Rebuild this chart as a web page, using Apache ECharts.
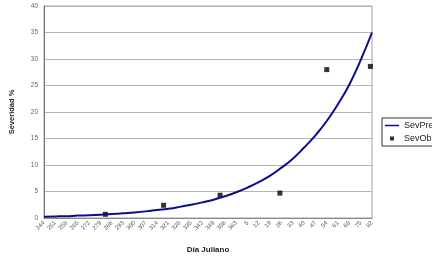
<!DOCTYPE html>
<html><head><meta charset="utf-8">
<script src="https://cdn.jsdelivr.net/npm/echarts@6/dist/echarts.min.js"></script>
<style>html,body{margin:0;padding:0;background:#fff}#c{width:432px;height:259px}</style>
</head><body><div id="c"></div>
<script>
// Tick labels (Julian day), one per week
const tickLabels = [244,251,258,265,272,279,286,293,300,307,314,321,328,335,342,349,356,363,5,12,19,26,33,40,47,54,61,68,75,82];
// Predicted severity at each tick day
const predValues = [0.25,0.3,0.35,0.45,0.5,0.6,0.75,0.9,1.05,1.25,1.5,1.75,2.1,2.5,2.95,3.45,4.1,4.85,5.75,6.8,8.0,9.5,11.2,13.3,15.6,18.3,21.5,25.2,29.8,35.0];
// Observed severity
const obsDays = [282,318,353,25,54,81];
const obsValues = [0.7,2.4,4.3,4.7,28.0,28.6];

const startDay = 244;
const toOffset = d => (d - startDay + 365) % 365;
const labelMap = {};
tickLabels.forEach(d => { labelMap[toOffset(d)] = String(d); });

const chart = echarts.init(document.getElementById('c'), null, {renderer:'canvas'});
chart.setOption({
  animation:false,
  textStyle:{fontFamily:'Liberation Sans, Arial, sans-serif'},
  grid:{left:40,right:60,top:6,bottom:37,show:true,borderColor:'#a0a0a0',borderWidth:1},
  legend:{
    orient:'vertical', left:382, top:118,
    borderColor:'#333', borderWidth:1, padding:[3,4,3,3],
    itemGap:4, itemWidth:14, itemHeight:6,
    textStyle:{fontSize:9,color:'#222'},
    data:[
      {name:'SevPred',icon:'path://M0,0L0.01,0L0.01,0.01Z M14,6L13.99,6L13.99,5.99Z M0,2.2L14,2.2L14,3.8L0,3.8Z'},
      {name:'SevObs',icon:'path://M0,0L0.01,0L0.01,0.01Z M14,6L13.99,6L13.99,5.99Z M5,1L9,1L9,5L5,5Z'}
    ]
  },
  xAxis:{
    type:'value', min:toOffset(tickLabels[0]), max:toOffset(tickLabels[tickLabels.length-1]), interval:7,
    name:'Día Juliano', nameLocation:'middle', nameGap:28,
    nameTextStyle:{fontSize:8,fontWeight:'bold',color:'#222'},
    axisLine:{lineStyle:{color:'#888'}},
    axisTick:{show:false},
    splitLine:{show:false},
    axisLabel:{rotate:45,fontSize:6,color:'#555',margin:4,formatter:v=>labelMap[v]||''}
  },
  yAxis:{
    type:'value', min:0, max:40, interval:5,
    name:'Severidad %', nameLocation:'middle', nameGap:28,
    nameTextStyle:{fontSize:7.5,fontWeight:'bold',color:'#222'},
    axisLine:{show:true,lineStyle:{color:'#777'}},
    axisTick:{show:false},
    splitLine:{lineStyle:{color:'#b4b4b4',width:1}},
    axisLabel:{fontSize:6.5,color:'#666',margin:6}
  },
  series:[
    {name:'SevPred',type:'line',smooth:true,symbol:'none',
     data:tickLabels.map((d,i)=>[toOffset(d),predValues[i]]),
     lineStyle:{color:'#0c0c8a',width:2},itemStyle:{color:'#0c0c8a'}},
    {name:'SevObs',type:'scatter',symbol:'rect',symbolSize:5,
     data:obsDays.map((d,i)=>[toOffset(d),obsValues[i]]),
     itemStyle:{color:'#000'}}
  ]
});
</script></body></html>
